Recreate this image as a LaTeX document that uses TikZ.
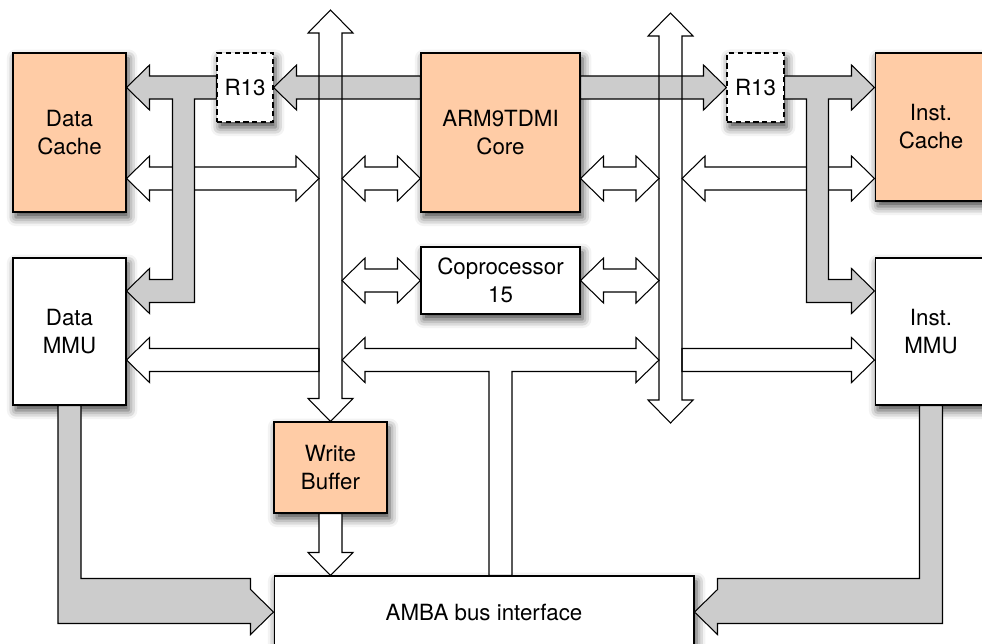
\documentclass[tikz,border=0pt]{standalone}
\usepackage{fontspec}
\setmainfont{TeX Gyre Heros}
\usepackage{tikz}
\usetikzlibrary{calc,shadows.blur}

\definecolor{peach}{HTML}{FFCCA6}
\definecolor{pathgray}{HTML}{CCCCCC}

\newcommand{\shaftw}{0.23cm}
\newcommand{\headw}{0.45cm}
\newcommand{\headlen}{0.46cm}

\newcommand{\fatarrow}[3]{%
  \coordinate (fa-s) at #2;
  \coordinate (fa-t) at #3;
  \coordinate (fa-b) at ($(fa-t)!\headlen!(fa-s)$);
  \draw[#1] ($(fa-s)!\shaftw!90:(fa-t)$) -- ($(fa-b)!\shaftw!90:(fa-t)$)
    -- ($(fa-b)!\headw!90:(fa-t)$) -- (fa-t) -- ($(fa-b)!\headw!-90:(fa-t)$)
    -- ($(fa-b)!\shaftw!-90:(fa-t)$) -- ($(fa-s)!\shaftw!-90:(fa-t)$) -- cycle;}

\newcommand{\fatdarrow}[3]{%
  \coordinate (fa-s) at #2;
  \coordinate (fa-t) at #3;
  \coordinate (fa-b) at ($(fa-t)!\headlen!(fa-s)$);
  \coordinate (fa-c) at ($(fa-s)!\headlen!(fa-t)$);
  \draw[#1] (fa-s) -- ($(fa-c)!\headw!90:(fa-t)$) -- ($(fa-c)!\shaftw!90:(fa-t)$)
    -- ($(fa-b)!\shaftw!90:(fa-t)$) -- ($(fa-b)!\headw!90:(fa-t)$) -- (fa-t)
    -- ($(fa-b)!\headw!-90:(fa-t)$) -- ($(fa-b)!\shaftw!-90:(fa-t)$)
    -- ($(fa-c)!\shaftw!-90:(fa-t)$) -- ($(fa-c)!\headw!-90:(fa-t)$) -- cycle;}

\tikzset{
  block/.style={draw, line width=0.6pt, fill=white, inner sep=0pt, align=center,
    font=\fontsize{12.7}{15.9}\selectfont,
    blur shadow={shadow xshift=1.5pt, shadow yshift=-3pt, shadow blur radius=5pt, shadow opacity=75}},
  hotblock/.style={block, fill=peach},
  regblock/.style={block, dash pattern=on 3pt off 2pt},
  grayarrow/.style={line width=0.6pt, fill=pathgray},
  whitearrow/.style={line width=0.6pt, fill=white},
  busarrow/.style={line width=0.6pt},
}

\begin{document}
\begin{tikzpicture}[x=0.02cm, y=-0.02cm]
    \useasboundingbox (0,0) rectangle (982,643);

    \node [hotblock, minimum width=2.26cm, minimum height=3.18cm] (dcache) at (69.5,132.5) {Data\\Cache};
    \node [block, minimum width=2.26cm, minimum height=2.94cm] (dmmu) at (69.5,331.5) {Data\\MMU};
    \node [regblock, minimum width=1.12cm, minimum height=1.38cm] (r13l) at (245,87.5) {R13};
    \node [hotblock, minimum width=3.18cm, minimum height=3.18cm] (core) at (500.5,132.5) {ARM9TDMI\\Core};
    \node [block, minimum width=3.18cm, minimum height=1.34cm] (cop) at (500.5,280.5) {Coprocessor\\15};
    \node [regblock, minimum width=1.14cm, minimum height=1.38cm] (r13r) at (755.5,87.5) {R13};
    \node [hotblock, minimum width=2.24cm, minimum height=2.96cm] (icache) at (931,127) {Inst.\\Cache};
    \node [block, minimum width=2.24cm, minimum height=2.94cm] (immu) at (931,331.5) {Inst.\\MMU};
    \node [hotblock, minimum width=2.26cm, minimum height=1.82cm] (wbuf) at (330.5,467.5) {Write\\Buffer};
    \node [block, minimum width=8.4cm, minimum height=1.44cm] (amba) at (484,612) {AMBA bus interface};

    \coordinate (lbus-top) at (330.5,10);
    \coordinate (rbus-top) at (670.5,13);
    \coordinate (rbus-bot) at (670.5,423);
    \coordinate (row1) at (0,178.5);
    \coordinate (row3) at (0,360);
    \coordinate (dc-in) at (dcache.east |- r13l.west);
    \coordinate (dm-in) at ($(dmmu.north east)+(0,33.5)$);
    \coordinate (ic-in) at (icache.west |- r13r.east);
    \coordinate (im-in) at ($(immu.north west)+(0,33.5)$);
    \coordinate (mid-l) at ($(lbus-top |- row3)+(11.5,0)$);
    \coordinate (mid-r) at ($(rbus-top |- row3)+(-11.5,0)$);
    \coordinate (stem) at (core.south |- amba.north);

    \fatdarrow{whitearrow}{(dcache.east |- row1)}{($(lbus-top |- row1)+(-11.5,0)$)}
    \fatdarrow{whitearrow}{($(lbus-top |- row1)+(11.5,0)$)}{(core.west |- row1)}
    \fatdarrow{whitearrow}{(core.east |- row1)}{($(rbus-top |- row1)+(-11.5,0)$)}
    \fatdarrow{whitearrow}{($(rbus-top |- row1)+(11.5,0)$)}{(icache.west |- row1)}
    \fatdarrow{whitearrow}{($(lbus-top |- cop.west)+(11.5,0)$)}{(cop.west)}
    \fatdarrow{whitearrow}{(cop.east)}{($(rbus-top |- cop.east)+(-11.5,0)$)}
    \fatarrow{whitearrow}{($(lbus-top |- row3)+(-11.5,0)$)}{(dmmu.east |- row3)}
    \fatarrow{whitearrow}{($(rbus-top |- row3)+(11.5,0)$)}{(immu.west |- row3)}
    \fatarrow{whitearrow}{(wbuf.south)}{(wbuf.south |- amba.north)}

    \draw [whitearrow] (mid-l) -- ++(23,-22.5) -- ++(0,11) -- ($(mid-r)+(-23,-11.5)$) -- ++(0,-11)
        -- (mid-r) -- ++(-23,22.5) -- ++(0,-11) -| ($(stem)+(11.5,0)$) -- ++(-23,0)
        |- ($(mid-l)+(23,11.5)$) -- ++(0,11) -- cycle;

    \fatarrow{grayarrow}{(core.west |- r13l.east)}{(r13l.east)}
    \fatarrow{grayarrow}{(core.east |- r13r.west)}{(r13r.west)}

    \draw [grayarrow] ($(r13l.west)+(0,-11.5)$) -- ($(dc-in)+(23,-11.5)$) -- ++(0,-11) -- (dc-in)
        -- ++(23,22.5) -- ++(0,-11) -- ++(23,0) |- ($(dm-in)+(23,-11.5)$) -- ++(0,-11) -- (dm-in)
        -- ++(23,22.5) -- ++(0,-11) -- ++(45,0) |- ($(r13l.west)+(0,11.5)$) -- cycle;
    \draw [grayarrow] ($(r13r.east)+(0,-11.5)$) -- ($(ic-in)+(-23,-11.5)$) -- ++(0,-11) -- (ic-in)
        -- ++(-23,22.5) -- ++(0,-11) -- ++(-23,0) |- ($(im-in)+(-23,-11.5)$) -- ++(0,-11) -- (im-in)
        -- ++(-23,22.5) -- ++(0,-11) -- ++(-45,0) |- ($(r13r.east)+(0,11.5)$) -- cycle;

    \draw [grayarrow] ($(dmmu.south)+(-11.5,0)$) |- ($(amba.west)+(-23,11.5)$) -- ++(0,11) -- (amba.west)
        -- ++(-23,-22.5) -- ++(0,-11) -| ($(dmmu.south)+(11.5,0)$) -- cycle;
    \draw [grayarrow] ($(immu.south)+(11.5,0)$) |- ($(amba.east)+(23,11.5)$) -- ++(0,11) -- (amba.east)
        -- ++(23,-22.5) -- ++(0,-11) -| ($(immu.south)+(-11.5,0)$) -- cycle;

    \fatdarrow{busarrow}{(lbus-top)}{(wbuf.north)}
    \fatdarrow{busarrow}{(rbus-top)}{(rbus-bot)}
\end{tikzpicture}
\end{document}
